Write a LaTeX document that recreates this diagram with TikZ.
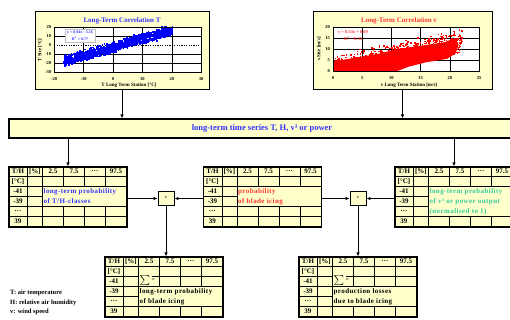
\documentclass[tikz,border=0pt]{standalone}
\usepackage{fontspec}
\setmainfont{Liberation Serif}
\usetikzlibrary{arrows.meta,calc}

\definecolor{chartbg}{RGB}{255,255,204}
\definecolor{ttblue}{RGB}{51,51,255}
\definecolor{ttred}{RGB}{255,51,51}
\definecolor{ttgreen}{RGB}{51,204,153}

\newcommand\tsz[1]{\fontsize{#1}{#1}\selectfont}

\tikzset{
  panel/.style={draw, line width=1pt, fill=chartbg, inner sep=0pt},
  tabbox/.style={draw, line width=1.1pt, fill=chartbg, inner sep=0pt, minimum width=118pt, minimum height=60pt},
  dotbox/.style={draw, line width=0.9pt, fill=chartbg, inner sep=0pt, minimum width=16pt, minimum height=13.5pt},
  cell/.style={inner sep=0pt, font=\bfseries\tsz{7}},
  note/.style={inner sep=0pt, anchor=west, font=\bfseries\tsz{7}\addfontfeature{LetterSpace=6}},
  ticklab/.style={inner sep=0pt, font=\bfseries\tsz{4.5}},
  axlab/.style={inner sep=0pt, font=\bfseries\tsz{5}},
  legend/.style={inner sep=0pt, anchor=west, font=\bfseries\tsz{6.5}},
  flow/.style={line width=1pt, -{Latex[length=4pt,width=3.5pt]}},
  gridln/.style={line width=0.5pt},
  thickln/.style={line width=0.9pt},
}

% common part of the class tables, #1 = name prefix
\newcommand\tabgrid[1]{%
  \draw[gridln] (19,0) -- (19,60) (34,0) -- (34,60);
  \foreach \yy in {20,30,40,50} \draw[gridln] (0,\yy) -- (34,\yy);
  \draw[thickln] (0,10) -- (118,10);
  \foreach \xx in {55,76,97} \draw[gridln] (\xx,0) -- (\xx,10);
  \node[cell] (#1-th) at (9.5,5) {T/H};
  \node[cell] (#1-pc) at (26.5,5) {[\%]};
  \foreach \xx/\lab [count=\i] in {44.5/2.5, 65.5/7.5, 86.5/\dots, 107.5/97.5}
    \node[cell] (#1-c\i) at (\xx,5) {\lab};
  \foreach \yy/\lab [count=\i] in {15/{[°C]}, 25/-41, 35/-39, 45/\dots, 55/39}
    \node[cell] (#1-r\i) at (9.5,\yy) {\lab};
}

\begin{document}
\begin{tikzpicture}[x=1pt,y=-1pt]
\useasboundingbox (0,0) rectangle (510,320);

\node[panel, minimum width=174pt, minimum height=78pt] (chartT) at (122,51) {};
\node[panel, minimum width=179pt, minimum height=78pt] (chartV) at (402.5,51) {};

% temperature correlation
\begin{scope}[shift={(113,45)}, x=2.94pt, y=0.9pt]
  \fill[white] (-20,-30) rectangle (30,20);
  \foreach \xx in {-10,0,10,20} \draw[gridln] (\xx,-30) -- (\xx,20);
  \foreach \yy in {10,-10,-20} \draw[gridln] (-20,\yy) -- (30,\yy);
  \draw[line width=0.8pt, dash pattern=on 1.2pt off 1.2pt] (-20,0) -- (30,0);
  \begin{scope}
    \clip (-20,-30) rectangle (30,20);
    \fill[blue] (-16,-17) -- (-8,-9) -- (0,-3) -- (10,5) -- (19,13) -- (19,10) -- (10,3) -- (0,-7) -- (-8,-14) -- (-16,-21) -- cycle;
    \pgfmathsetseed{11}
    \foreach \i in {1,...,1100}{
      \pgfmathsetmacro\dx{-17+37*rnd}
      \pgfmathsetmacro\dy{0.94*\dx-3.16+3.5*(rand+rand)}
      \fill[blue] (\dx,\dy) rectangle ++(1.8pt,1.8pt);
    }
  \end{scope}
  \draw[line width=0.8pt] (-20,-30) rectangle (30,20);
  \foreach \xx [count=\i] in {-20,-10,0,10,20,30}
    \node[ticklab, anchor=north, yshift=-5pt] (tT-x\i) at (\xx,-30) {\xx};
  \foreach \yy [count=\i] in {-30,-20,-10,0,10,20}
    \node[ticklab, anchor=east, xshift=-3pt] (tT-y\i) at (-20,\yy) {\yy};
\end{scope}
\node[font=\bfseries\tsz{7}, text=ttblue, inner sep=0pt] (titleT) at (122,21) {Long-Term Correlation T};
\node[axlab] (xlabT) at (129,85) {T Long Term Station [°C]};
\node[axlab, rotate=90] (ylabT) at (40,50) {T Site [°C]};
\node[draw=gray!50, fill=white, inner sep=1pt, minimum width=30pt, minimum height=13pt, text=ttblue,
  font=\bfseries\tsz{4}, align=center] (regT) at (80,35.5) {y = 0.94x - 3.16\\[1pt]R\textsuperscript{2} = 0.77};

% wind speed correlation
\begin{scope}[shift={(333,71)}, x=5.84pt, y=2.2pt]
  \fill[white] (0,0) rectangle (25,20);
  \foreach \xx in {5,10,15,20} \draw[gridln] (\xx,0) -- (\xx,20);
  \foreach \yy in {5,10,15} \draw[gridln] (0,\yy) -- (25,\yy);
  \begin{scope}
    \clip (0,0) rectangle (25,20);
    \fill[red] (0,0) -- (0,4.5) -- (4,6) -- (8,8) -- (11,10) -- (15,11.5) -- (19,13) -- (21,15)
      -- (21.5,12) -- (21,8) -- (19.5,5.5) -- (16,4) -- (13,2) -- (11,0) -- cycle;
    \pgfmathsetseed{5}
    \foreach \i in {1,...,900}{
      \pgfmathsetmacro\dx{22*rnd}
      \pgfmathsetmacro\dy{0.55*\dx+1+3*(rand+rand)}
      \fill[red] (\dx,\dy) rectangle ++(1.5pt,1.5pt);
    }
  \end{scope}
  \draw[line width=0.8pt] (0,0) rectangle (25,20);
  \foreach \xx [count=\i] in {0,5,10,15,20,25}
    \node[ticklab, anchor=north, yshift=-5pt] (tV-x\i) at (\xx,0) {\xx};
  \foreach \yy [count=\i] in {0,5,10,15,20}
    \node[ticklab, anchor=east, xshift=-3pt] (tV-y\i) at (0,\yy) {\yy};
\end{scope}
\node[font=\bfseries\tsz{7}, text=ttred, inner sep=0pt] (titleV) at (399,21) {Long-Term Correlation v};
\node[axlab] (xlabV) at (409,85) {v Long Term Station [m/s]};
\node[axlab, rotate=90] (ylabV) at (319,49) {v Site [m/s]};
\node[text=ttred, font=\bfseries\tsz{4.5}, inner sep=0pt, align=center] (regV) at (353,36) {y = 0.53x + 0.69\\[1pt]R\textsuperscript{2} = 0.55};

\node[panel, line width=1.1pt, minimum width=506pt, minimum height=19pt, text=ttblue,
  font=\bfseries\tsz{8.5}] (series) at (262,128.5) {long-term time series T, H, v³ or power};

\node[tabbox] (tabA) at (68,197) {};
\node[tabbox] (tabB) at (262.5,197) {};
\node[tabbox] (tabC) at (454,197) {};
\node[tabbox] (tabD) at (164,287) {};
\node[tabbox] (tabE) at (358,287) {};

\node[dotbox, font=\tsz{6}] (dotA) at (166,198.5) {\textbullet};
\node[dotbox, font=\tsz{6}] (dotB) at (358,198.5) {\textbullet};

\begin{scope}[shift={(tabA.north west)}]
  \tabgrid{A}
  \foreach \xx in {55,76,97} \draw[gridln] (\xx,10) -- (\xx,20) (\xx,40) -- (\xx,60);
  \draw[gridln] (34,20) -- (118,20);
  \draw[thickln] (0,40) -- (118,40) (0,50) -- (118,50);
  \node[note, text=ttblue] (A-t1) at (35,25) {long-term probability};
  \node[note, text=ttblue] (A-t2) at (35,35) {of T/H-classes};
\end{scope}

\begin{scope}[shift={(tabB.north west)}]
  \tabgrid{B}
  \foreach \xx in {55,76,97} \draw[gridln] (\xx,10) -- (\xx,20) (\xx,40) -- (\xx,60);
  \draw[gridln] (34,20) -- (118,20);
  \draw[thickln] (0,40) -- (118,40) (0,50) -- (118,50);
  \node[note, text=ttred] (B-t1) at (35,25) {probability};
  \node[note, text=ttred] (B-t2) at (35,35) {of blade icing};
\end{scope}

\begin{scope}[shift={(tabC.north west)}]
  \tabgrid{C}
  \foreach \xx in {55,76,97} \draw[gridln] (\xx,10) -- (\xx,20) (\xx,50) -- (\xx,60);
  \draw[gridln] (34,20) -- (118,20);
  \draw[thickln] (0,50) -- (118,50);
  \node[note, text=ttgreen] (C-t1) at (35,25) {long-term probability};
  \node[note, text=ttgreen] (C-t2) at (35,35) {of v³ or power output};
  \node[note, text=ttgreen] (C-t3) at (35,45) {(normalised to 1)};
\end{scope}

\begin{scope}[shift={(tabD.north west)}]
  \tabgrid{D}
  \foreach \xx in {55,76,97} \draw[gridln] (\xx,10) -- (\xx,30) (\xx,50) -- (\xx,60);
  \draw[gridln] (48,20) -- (118,20);
  \draw[gridln] (34,30) -- (118,30);
  \draw[thickln] (0,50) -- (118,50);
  \node[note, font=\tsz{6}] (D-sum) at (35,24) {$\sum$ =};
  \node[note] (D-t1) at (35,35) {long-term probability};
  \node[note] (D-t2) at (35,45) {of blade icing};
\end{scope}

\begin{scope}[shift={(tabE.north west)}]
  \tabgrid{E}
  \foreach \xx in {55,76,97} \draw[gridln] (\xx,10) -- (\xx,30) (\xx,50) -- (\xx,60);
  \draw[gridln] (48,20) -- (118,20);
  \draw[gridln] (34,30) -- (118,30);
  \draw[thickln] (0,50) -- (118,50);
  \node[note, font=\tsz{6}] (E-sum) at (35,24) {$\sum$ =};
  \node[note] (E-t1) at (35,35) {production losses};
  \node[note] (E-t2) at (35,45) {due to blade icing};
\end{scope}

\draw[flow] (chartT.south) -- (chartT.south |- series.north);
\draw[flow] (chartV.south) -- (chartV.south |- series.north);
\draw[flow] (tabA.north |- series.south) -- (tabA.north);
\draw[flow] (tabC.north |- series.south) -- (tabC.north);
\draw[flow] (tabA.east |- dotA) -- (dotA.west);
\draw[flow] (tabB.west |- dotA) -- (dotA.east);
\draw[flow] (tabB.east |- dotB) -- (dotB.west);
\draw[flow] (tabC.west |- dotB) -- (dotB.east);
\draw[flow] (dotA.south) -- (dotA.south |- tabD.north);
\draw[flow] (dotB.south) -- (dotB.south |- tabE.north);

\node[legend] (legT) at (10,293) {T: air temperature};
\node[legend] (legH) at (10,302.5) {H: relative air humidity};
\node[legend] (legV) at (10,312) {v: wind speed};
\end{tikzpicture}
\end{document}
